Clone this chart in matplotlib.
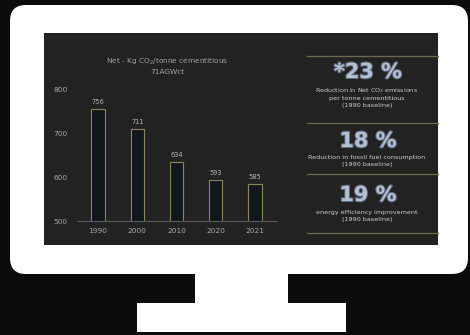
import matplotlib.pyplot as plt
from matplotlib.patches import FancyBboxPatch, Rectangle
from matplotlib.lines import Line2D
import matplotlib.patheffects as pe

# chart data
years = ["1990", "2000", "2010", "2020", "2021"]
net_co2 = [756, 711, 634, 593, 585]
y_ticks = [500, 600, 700, 800]

# side panel figures
big_numbers = ["*23 %", "18 %", "19 %"]
captions = [
    "Reduction in Net CO$_2$ emissions\nper tonne cementitious\n(1990 baseline)",
    "Reduction in fossil fuel consumption\n(1990 baseline)",
    "energy efficiency improvement\n(1990 baseline)",
]

W, H = 470, 335
fig = plt.figure(figsize=(W / 100, H / 100), dpi=100)
fig.patch.set_facecolor("#0b0b0b")


def fx(x):
    return x / W


def fy(y):
    return 1 - y / H


def box(x0, y0, x1, y1, color, rounded=0):
    if rounded:
        p = FancyBboxPatch((fx(x0), fy(y1)), fx(x1 - x0), (y1 - y0) / H,
                           boxstyle=f"round,pad=0,rounding_size={rounded / W}",
                           transform=fig.transFigure, facecolor=color,
                           edgecolor="none", mutation_aspect=W / H, zorder=-2)
    else:
        p = Rectangle((fx(x0), fy(y1)), fx(x1 - x0), (y1 - y0) / H,
                      transform=fig.transFigure, facecolor=color,
                      edgecolor="none", zorder=-2)
    fig.patches.append(p)


# monitor frame, stand and screen
box(10, 5, 468, 274, "white", rounded=16)
box(195, 272, 288, 304, "white")
box(137, 303, 346, 332, "white")
box(44, 33, 438, 245, "#222222")

# bar chart
ax = fig.add_axes([fx(77), fy(221), fx(276 - 77), (221 - 90) / H])
ax.set_zorder(5)
ax.set_facecolor("none")
bars = ax.bar(range(len(years)), net_co2, width=0.34, bottom=0,
              color="#11171b", edgecolor="#8b8660", linewidth=0.8)
ax.bar_label(bars, labels=[str(v) for v in net_co2], padding=3,
             fontsize=4.8, color="#b5b5b5")
ax.set_ylim(500, 800)
ax.set_xlim(-0.535, 4.535)
ax.set_yticks(y_ticks)
ax.set_xticks(range(len(years)))
ax.set_xticklabels(years)
ax.tick_params(axis="both", length=0, labelsize=5.3, colors="#a8a8a8")
ax.tick_params(axis="y", pad=7)
ax.tick_params(axis="x", pad=5)
for s in ["top", "right", "left"]:
    ax.spines[s].set_visible(False)
ax.spines["bottom"].set_color("#5a5a5a")
ax.spines["bottom"].set_linewidth(0.8)

fig.text(fx(167), fy(66), "Net - Kg CO$_2$/tonne cementitious\n71AGWct",
         ha="center", va="center", fontsize=5.3, color="#a0a0a0", linespacing=1.3)

# side panel
for y in [56, 123, 174, 233]:
    fig.add_artist(Line2D([fx(307), fx(438)], [fy(y), fy(y)],
                          transform=fig.transFigure, color="#6e6a50", lw=0.9))

big_y = [72, 141, 195]
cap_y = [97, 161, 216]
for num, cap, by, cy in zip(big_numbers, captions, big_y, cap_y):
    fig.text(fx(368), fy(by), num, ha="center", va="center", fontsize=15,
             color="#b4bfd0", fontweight="bold",
             path_effects=[pe.withStroke(linewidth=1.5, foreground="#5f687a")])
    fig.text(fx(367), fy(cy), cap, ha="center", va="center", fontsize=4.6,
             color="#cccccc", linespacing=1.35)

fig.savefig("out.png", dpi=100, facecolor=fig.get_facecolor())
